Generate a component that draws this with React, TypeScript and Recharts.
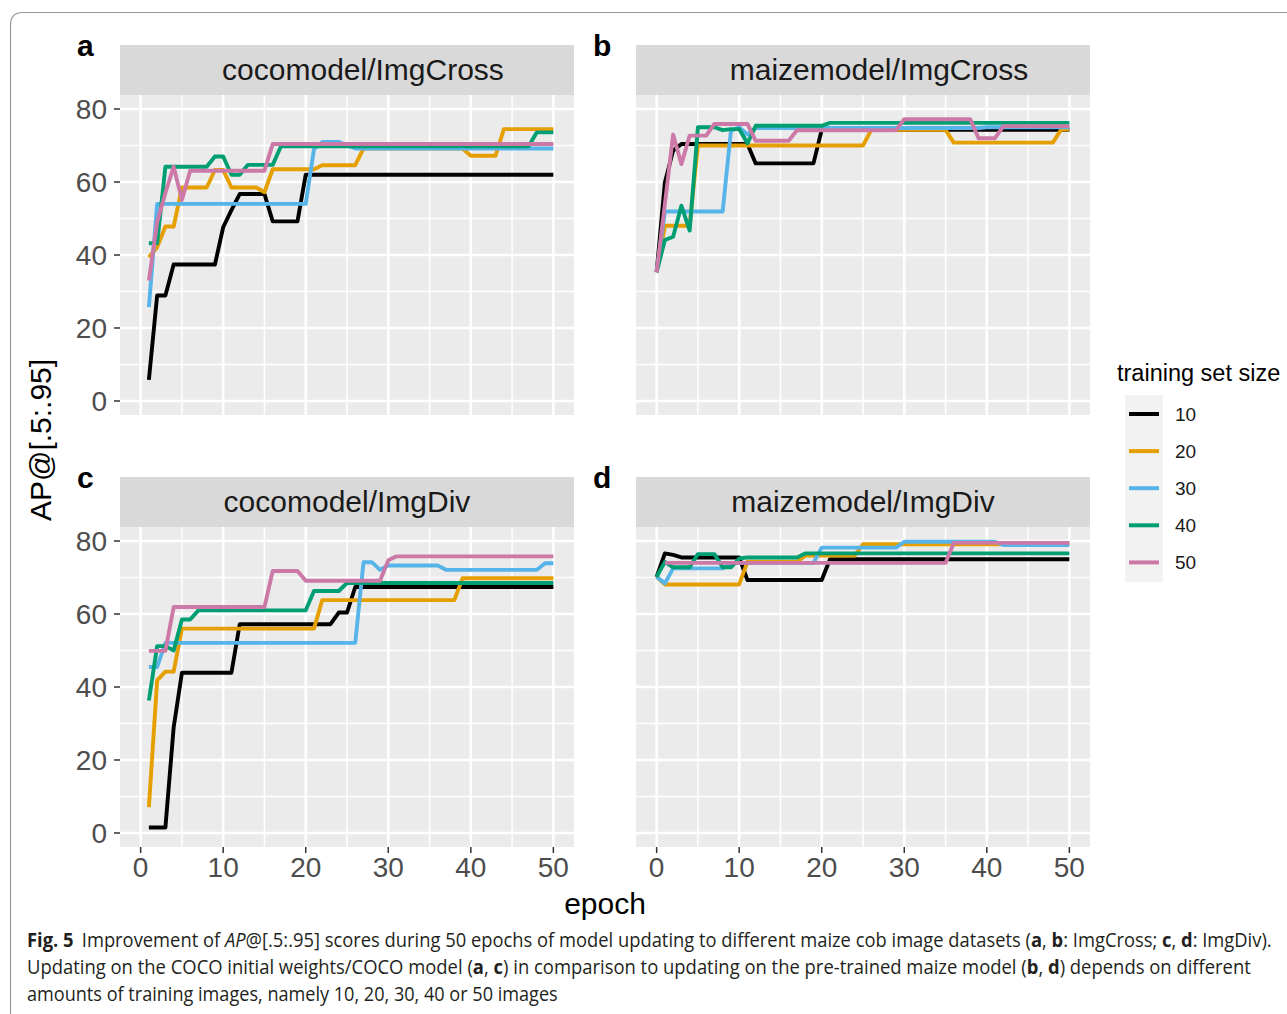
import React, { useLayoutEffect, useRef, useState } from "react";
import { LineChart, Line, XAxis, YAxis, CartesianGrid, ReferenceLine } from "recharts";

const epochs = [
  0, 1, 2, 3, 4, 5, 6, 7, 8, 9, 10, 11, 12, 13, 14, 15, 16, 17, 18, 19, 20, 21, 22, 23, 24, 25,
  26, 27, 28, 29, 30, 31, 32, 33, 34, 35, 36, 37, 38, 39, 40, 41, 42, 43, 44, 45, 46, 47, 48, 49, 50,
];

const sizes = ["10", "20", "30", "40", "50"];
const colors = ["#000000", "#E69F00", "#56B4E9", "#009E73", "#CC79A7"];

const xTicks = [0, 10, 20, 30, 40, 50];
const xMinor = [5, 15, 25, 35, 45];
const yTicks = [0, 20, 40, 60, 80];
const yMinor = [10, 30, 50, 70];

// a: cocomodel/ImgCross
const cocoCross10 = [
  null, 5.8, 28.9, 28.9, 37.4, 37.4, 37.4, 37.4, 37.4, 37.4,
  47.6, 52.3, 56.7, 56.7, 56.7, 56.7, 49.2, 49.2, 49.2, 49.2,
  62, 62, 62, 62, 62, 62, 62, 62, 62, 62,
  62, 62, 62, 62, 62, 62, 62, 62, 62, 62,
  62, 62, 62, 62, 62, 62, 62, 62, 62, 62,
  62,
];
const cocoCross20 = [
  null, 39.4, 42.1, 47.8, 47.8, 58.5, 58.5, 58.5, 58.5, 63.3,
  63.3, 58.5, 58.5, 58.5, 58.5, 57.2, 63.5, 63.5, 63.5, 63.5,
  63.5, 63.5, 64.6, 64.6, 64.6, 64.6, 64.6, 69.2, 69.2, 69.2,
  69.2, 69.2, 69.2, 69.2, 69.2, 69.2, 69.2, 69.2, 69.2, 69.2,
  67.2, 67.2, 67.2, 67.2, 74.5, 74.5, 74.5, 74.5, 74.5, 74.5,
  74.5,
];
const cocoCross30 = [
  null, 25.7, 54, 54, 54, 54, 54, 54, 54, 54,
  54, 54, 54, 54, 54, 54, 54, 54, 54, 54,
  54, 69, 71, 71, 71, 70, 69.2, 69.2, 69.2, 69.2,
  69.2, 69.2, 69.2, 69.2, 69.2, 69.2, 69.2, 69.2, 69.2, 69.2,
  69.2, 69.2, 69.2, 69.2, 69.2, 69.2, 69.2, 69.2, 69.2, 69.2,
  69.2,
];
const cocoCross40 = [
  null, 43.2, 43.2, 64.2, 64.2, 64.2, 64.2, 64.2, 64.2, 67,
  67, 62, 62, 64.7, 64.7, 64.7, 64.7, 69.8, 69.8, 69.8,
  69.8, 69.8, 69.8, 69.8, 69.8, 69.8, 69.8, 69.8, 69.8, 69.8,
  69.8, 69.8, 69.8, 69.8, 69.8, 69.8, 69.8, 69.8, 69.8, 69.8,
  69.8, 69.8, 69.8, 69.8, 69.8, 69.8, 69.8, 69.8, 73.6, 73.6,
  73.6,
];
const cocoCross50 = [
  null, 33, 49, 57, 64.2, 55.1, 63.1, 63.1, 63.1, 63.1,
  63.1, 63.1, 63.1, 63.1, 63.1, 63.1, 70.4, 70.4, 70.4, 70.4,
  70.4, 70.4, 70.4, 70.4, 70.4, 70.4, 70.4, 70.4, 70.4, 70.4,
  70.4, 70.4, 70.4, 70.4, 70.4, 70.4, 70.4, 70.4, 70.4, 70.4,
  70.4, 70.4, 70.4, 70.4, 70.4, 70.4, 70.4, 70.4, 70.4, 70.4,
  70.4,
];

// b: maizemodel/ImgCross
const maizeCross10 = [
  35.3, 59.9, 68.6, 70.4, 70.4, 70.4, 70.4, 70.4, 70.4, 70.4,
  70.4, 70.4, 65.1, 65.1, 65.1, 65.1, 65.1, 65.1, 65.1, 65.1,
  74.3, 74.3, 74.3, 74.3, 74.3, 74.3, 74.3, 74.3, 74.3, 74.3,
  74.3, 74.3, 74.3, 74.3, 74.3, 74.3, 74.3, 74.3, 74.3, 74.3,
  74.3, 74.3, 74.3, 74.3, 74.3, 74.3, 74.3, 74.3, 74.3, 74.3,
  74.3,
];
const maizeCross20 = [
  35.3, 48, 48, 48, 48, 70, 70, 70, 70, 70,
  70, 70, 70, 70, 70, 70, 70, 70, 70, 70,
  70, 70, 70, 70, 70, 70, 74.3, 74.3, 74.3, 74.3,
  74.3, 74.3, 74.3, 74.3, 74.3, 74.3, 70.8, 70.8, 70.8, 70.8,
  70.8, 70.8, 70.8, 70.8, 70.8, 70.8, 70.8, 70.8, 70.8, 74.4,
  74.4,
];
const maizeCross30 = [
  35.3, 51.9, 51.9, 51.9, 51.9, 51.9, 51.9, 51.9, 51.9, 74,
  75, 73, 74.8, 74.8, 74.8, 74.8, 74.8, 74.8, 74.8, 74.8,
  74.8, 74.8, 74.8, 74.8, 74.8, 74.8, 74.8, 74.8, 74.8, 74.8,
  74.8, 74.8, 74.8, 74.8, 74.8, 74.8, 74.8, 74.8, 74.8, 74.8,
  75, 75, 75, 75, 75, 75, 75, 75, 75, 75,
  75,
];
const maizeCross40 = [
  35.3, 44.1, 45, 53.5, 46.7, 75, 75, 75, 74.2, 74.5,
  74.5, 70.6, 75.4, 75.4, 75.4, 75.4, 75.4, 75.4, 75.4, 75.4,
  75.4, 76.2, 76.2, 76.2, 76.2, 76.2, 76.2, 76.2, 76.2, 76.2,
  76.2, 76.2, 76.2, 76.2, 76.2, 76.2, 76.2, 76.2, 76.2, 76.2,
  76.2, 76.2, 76.2, 76.2, 76.2, 76.2, 76.2, 76.2, 76.2, 76.2,
  76.2,
];
const maizeCross50 = [
  35.3, 54, 73, 64.9, 72.7, 72.7, 72.7, 75.9, 75.9, 75.9,
  75.9, 75.9, 71.3, 71.3, 71.3, 71.3, 71.3, 74.2, 74.2, 74.2,
  74.2, 74.2, 74.2, 74.2, 74.2, 74.2, 74.2, 74.2, 74.2, 74.2,
  77.2, 77.2, 77.2, 77.2, 77.2, 77.2, 77.2, 77.2, 77.2, 72,
  72, 72, 75.3, 75.3, 75.3, 75.3, 75.3, 75.3, 75.3, 75.3,
  75.3,
];

// c: cocomodel/ImgDiv
const cocoDiv10 = [
  null, 1.5, 1.5, 1.5, 28.9, 43.9, 43.9, 43.9, 43.9, 43.9,
  43.9, 43.9, 57.2, 57.2, 57.2, 57.2, 57.2, 57.2, 57.2, 57.2,
  57.2, 57.2, 57.2, 57.2, 60.4, 60.4, 67.4, 67.4, 67.4, 67.4,
  67.4, 67.4, 67.4, 67.4, 67.4, 67.4, 67.4, 67.4, 67.4, 67.4,
  67.4, 67.4, 67.4, 67.4, 67.4, 67.4, 67.4, 67.4, 67.4, 67.4,
  67.4,
];
const cocoDiv20 = [
  null, 7.1, 41.8, 44.2, 44.2, 56, 56, 56, 56, 56,
  56, 56, 56, 56, 56, 56, 56, 56, 56, 56,
  56, 56, 63.8, 63.8, 63.8, 63.8, 63.8, 63.8, 63.8, 63.8,
  63.8, 63.8, 63.8, 63.8, 63.8, 63.8, 63.8, 63.8, 63.8, 69.8,
  69.8, 69.8, 69.8, 69.8, 69.8, 69.8, 69.8, 69.8, 69.8, 69.8,
  69.8,
];
const cocoDiv30 = [
  null, 45.5, 45.5, 52.1, 52.1, 52.1, 52.1, 52.1, 52.1, 52.1,
  52.1, 52.1, 52.1, 52.1, 52.1, 52.1, 52.1, 52.1, 52.1, 52.1,
  52.1, 52.1, 52.1, 52.1, 52.1, 52.1, 52.1, 74.2, 74.2, 72.1,
  73.3, 73.3, 73.3, 73.3, 73.3, 73.3, 73.3, 72.1, 72.1, 72.1,
  72.1, 72.1, 72.1, 72.1, 72.1, 72.1, 72.1, 72.1, 72.1, 73.9,
  73.9,
];
const cocoDiv40 = [
  null, 36.3, 51.2, 51.2, 50, 58.5, 58.5, 61, 61, 61,
  61, 61, 61, 61, 61, 61, 61, 61, 61, 61,
  61, 66.3, 66.3, 66.3, 66.3, 68.5, 68.5, 68.5, 68.5, 68.5,
  68.5, 68.5, 68.5, 68.5, 68.5, 68.5, 68.5, 68.5, 68.5, 68.5,
  68.5, 68.5, 68.5, 68.5, 68.5, 68.5, 68.5, 68.5, 68.5, 68.5,
  68.5,
];
const cocoDiv50 = [
  null, 49.9, 49.9, 49.9, 61.9, 61.9, 61.9, 61.9, 61.9, 61.9,
  61.9, 61.9, 61.9, 61.9, 61.9, 61.9, 71.8, 71.8, 71.8, 71.8,
  69.1, 69.1, 69.1, 69.1, 69.1, 69.1, 69.1, 69.1, 69.1, 69.1,
  74.7, 75.8, 75.8, 75.8, 75.8, 75.8, 75.8, 75.8, 75.8, 75.8,
  75.8, 75.8, 75.8, 75.8, 75.8, 75.8, 75.8, 75.8, 75.8, 75.8,
  75.8,
];

// d: maizemodel/ImgDiv
const maizeDiv10 = [
  70.2, 76.6, 76.2, 75.5, 75.5, 75.5, 75.5, 75.5, 75.5, 75.5,
  75.5, 69.3, 69.3, 69.3, 69.3, 69.3, 69.3, 69.3, 69.3, 69.3,
  69.3, 75, 75, 75, 75, 75, 75, 75, 75, 75,
  75, 75, 75, 75, 75, 75, 75, 75, 75, 75,
  75, 75, 75, 75, 75, 75, 75, 75, 75, 75,
  75,
];
const maizeDiv20 = [
  70.2, 68.1, 68.1, 68.1, 68.1, 68.1, 68.1, 68.1, 68.1, 68.1,
  68.1, 74.3, 74.3, 74.3, 74.3, 74.3, 74.3, 74.3, 76, 76,
  76, 76, 76, 76, 76, 79.1, 79.1, 79.1, 79.1, 79.1,
  79.1, 79.1, 79.1, 79.1, 79.1, 79.1, 79.1, 79.1, 79.1, 79.1,
  79.1, 79.1, 79.1, 79.1, 79.1, 79.1, 79.1, 79.1, 79.1, 79.1,
  79.1,
];
const maizeDiv30 = [
  70.2, 68.4, 72.5, 72.5, 72.5, 72.5, 72.5, 72.5, 72.5, 74,
  74, 74, 74, 74, 74, 74, 74, 74, 74, 74,
  78.2, 78.2, 78.2, 78.2, 78.2, 78.2, 78.2, 78.2, 78.2, 78.2,
  79.8, 79.8, 79.8, 79.8, 79.8, 79.8, 79.8, 79.8, 79.8, 79.8,
  79.8, 79.8, 78.9, 78.9, 78.9, 78.9, 78.9, 78.9, 78.9, 78.9,
  78.9,
];
const maizeDiv40 = [
  70.2, 74.3, 72.8, 72.8, 72.8, 76.4, 76.4, 76.4, 72.8, 72.8,
  75.2, 75.5, 75.5, 75.5, 75.5, 75.5, 75.5, 75.5, 76.6, 76.6,
  76.6, 76.6, 76.6, 76.6, 76.6, 76.6, 76.6, 76.6, 76.6, 76.6,
  76.6, 76.6, 76.6, 76.6, 76.6, 76.6, 76.6, 76.6, 76.6, 76.6,
  76.6, 76.6, 76.6, 76.6, 76.6, 76.6, 76.6, 76.6, 76.6, 76.6,
  76.6,
];
const maizeDiv50 = [
  null, 74, 74, 74, 74, 74, 74, 74, 74, 74,
  74, 74, 74, 74, 74, 74, 74, 74, 74, 74,
  74, 74, 74, 74, 74, 74, 74, 74, 74, 74,
  74, 74, 74, 74, 74, 74, 79.5, 79.5, 79.5, 79.5,
  79.5, 79.5, 79.5, 79.5, 79.5, 79.5, 79.5, 79.5, 79.5, 79.5,
  79.5,
];

const FONT = "'Liberation Sans', Arial, Helvetica, sans-serif";
const CAPTION_FONT = "'Open Sans', 'Noto Sans', sans-serif";
const PW = 454;
const PH = 320;

type PanelProps = {
  title: string;
  tag: string;
  series: (number | null)[][];
  left: number;
  top: number;
  showX: boolean;
  showY: boolean;
};

function Panel({ title, tag, series, left, top, showX, showY }: PanelProps) {
  const data = epochs.map((epoch, i) => {
    const row: Record<string, number | null> = { epoch };
    sizes.forEach((s, k) => {
      row["s" + s] = series[k][i];
    });
    return row;
  });
  const yW = showY ? 70 : 0;
  const xH = showX ? 50 : 0;
  const padB = showX ? 0 : 14;
  // top row strip labels sit a little right of centre in the figure
  const titleShift = showX ? 0 : 32;
  const tickStyle = { fill: "#4D4D4D", fontSize: 28, fontFamily: FONT };
  return (
    <>
      <div
        style={{
          position: "absolute",
          left,
          top: top - 50,
          width: PW,
          height: 50,
          background: "#D9D9D9",
        }}
      >
        <div
          style={{
            position: "absolute",
            left: titleShift,
            right: 0,
            top: 0,
            color: "#1A1A1A",
            fontFamily: FONT,
            fontSize: 30,
            lineHeight: "50px",
            textAlign: "center",
            whiteSpace: "nowrap",
          }}
        >
          {title}
        </div>
      </div>
      <div
        style={{
          position: "absolute",
          left: left - 43,
          top: top - 66,
          fontFamily: FONT,
          fontWeight: "bold",
          fontSize: 30,
          lineHeight: "34px",
          color: "#000",
        }}
      >
        {tag}
      </div>
      <div style={{ position: "absolute", left: left - yW, top }}>
        <LineChart
          width={PW + yW}
          height={PH + xH + padB}
          data={data}
          margin={{ top: 0, right: 0, bottom: padB, left: 0 }}
        >
          <CartesianGrid fill="#EBEBEB" fillOpacity={1} horizontal={false} vertical={false} />
          {xMinor.map((v) => (
            <ReferenceLine key={"xm" + v} x={v} stroke="#FFFFFF" strokeWidth={1.5} zIndex={-50} />
          ))}
          {yMinor.map((v) => (
            <ReferenceLine key={"ym" + v} y={v} stroke="#FFFFFF" strokeWidth={1.5} zIndex={-50} />
          ))}
          {xTicks.map((v) => (
            <ReferenceLine key={"x" + v} x={v} stroke="#FFFFFF" strokeWidth={2.5} zIndex={-50} />
          ))}
          {yTicks.map((v) => (
            <ReferenceLine key={"y" + v} y={v} stroke="#FFFFFF" strokeWidth={2.5} zIndex={-50} />
          ))}
          <XAxis
            type="number"
            dataKey="epoch"
            domain={[-2.5, 52.5]}
            allowDataOverflow
            ticks={xTicks}
            hide={!showX}
            height={xH}
            axisLine={false}
            tickLine={{ stroke: "#333333", strokeWidth: 1.5 }}
            tickSize={6}
            tickMargin={4}
            tick={tickStyle}
            interval={0}
          />
          <YAxis
            type="number"
            domain={[-3.84, 83.84]}
            allowDataOverflow
            ticks={yTicks}
            hide={!showY}
            width={yW}
            axisLine={false}
            tickLine={{ stroke: "#333333", strokeWidth: 1.5 }}
            tickSize={6}
            tickMargin={7}
            tick={tickStyle}
            interval={0}
          />
          {sizes.map((s, k) => (
            <Line
              key={s}
              type="linear"
              dataKey={"s" + s}
              stroke={colors[k]}
              strokeWidth={3.9}
              strokeLinejoin="round"
              dot={false}
              activeDot={false}
              isAnimationActive={false}
            />
          ))}
        </LineChart>
      </div>
    </>
  );
}

// one caption line, squeezed horizontally to the width it has in the figure
function CaptionLine({ x, y, width, children }: { x: number; y: number; width: number; children: React.ReactNode }) {
  const ref = useRef<SVGTextElement>(null);
  const [sx, setSx] = useState(1);
  useLayoutEffect(() => {
    if (ref.current) {
      const w = ref.current.getBBox().width;
      if (w > 0) setSx(width / w);
    }
  }, [width]);
  return (
    <text ref={ref} x={0} y={0} transform={`translate(${x} ${y}) scale(${sx} 1)`}>
      {children}
    </text>
  );
}

export default function App() {
  return (
    <div
      style={{
        position: "absolute",
        left: 0,
        top: 0,
        width: 1287,
        height: 1014,
        background: "#fff",
        overflow: "hidden",
      }}
    >
      <Panel
        title="cocomodel/ImgCross"
        tag="a"
        series={[cocoCross10, cocoCross20, cocoCross30, cocoCross40, cocoCross50]}
        left={120}
        top={95}
        showX={false}
        showY={true}
      />
      <Panel
        title="maizemodel/ImgCross"
        tag="b"
        series={[maizeCross10, maizeCross20, maizeCross30, maizeCross40, maizeCross50]}
        left={636}
        top={95}
        showX={false}
        showY={false}
      />
      <Panel
        title="cocomodel/ImgDiv"
        tag="c"
        series={[cocoDiv10, cocoDiv20, cocoDiv30, cocoDiv40, cocoDiv50]}
        left={120}
        top={527}
        showX={true}
        showY={true}
      />
      <Panel
        title="maizemodel/ImgDiv"
        tag="d"
        series={[maizeDiv10, maizeDiv20, maizeDiv30, maizeDiv40, maizeDiv50]}
        left={636}
        top={527}
        showX={true}
        showY={false}
      />

      <svg
        width={1287}
        height={1014}
        style={{ position: "absolute", left: 0, top: 0, pointerEvents: "none" }}
      >
        <path d="M 10.5 1014 V 25 Q 10.5 12.5 23 12.5 H 1287" fill="none" stroke="#9A9A9A" strokeWidth={1.2} />

        <text
          x={51}
          y={440}
          transform="rotate(-90 51 440)"
          textAnchor="middle"
          fontFamily={FONT}
          fontSize={30}
          fill="#000"
        >
          AP@[.5:.95]
        </text>
        <text x={605} y={914} textAnchor="middle" fontFamily={FONT} fontSize={30} fill="#000">
          epoch
        </text>

        <text x={1117} y={381} fontFamily={FONT} fontSize={23.5} fill="#000">
          training set size
        </text>
        <rect x={1125} y={395} width={38} height={187} fill="#F2F2F2" />
        {sizes.map((s, k) => (
          <g key={s}>
            <line
              x1={1129}
              x2={1159}
              y1={414 + k * 37.1}
              y2={414 + k * 37.1}
              stroke={colors[k]}
              strokeWidth={4}
            />
            <text x={1175} y={414 + k * 37.1} dy="0.36em" fontFamily={FONT} fontSize={19} fill="#1A1A1A">
              {s}
            </text>
          </g>
        ))}

        <g fontFamily={CAPTION_FONT} fontSize={20} fill="#231F20">
          <CaptionLine x={27} y={947} width={1245}>
            <tspan fontWeight="bold">Fig. 5</tspan>
            <tspan dx={9}>Improvement of </tspan>
            <tspan fontStyle="italic">AP</tspan>
            {"@[.5:.95] scores during 50 epochs of model updating to different maize cob image datasets ("}
            <tspan fontWeight="bold">a</tspan>
            {", "}
            <tspan fontWeight="bold">b</tspan>
            {": ImgCross; "}
            <tspan fontWeight="bold">c</tspan>
            {", "}
            <tspan fontWeight="bold">d</tspan>
            {": ImgDiv)."}
          </CaptionLine>
          <CaptionLine x={27} y={974} width={1225}>
            {"Updating on the COCO initial weights/COCO model ("}
            <tspan fontWeight="bold">a</tspan>
            {", "}
            <tspan fontWeight="bold">c</tspan>
            {") in comparison to updating on the pre-trained maize model ("}
            <tspan fontWeight="bold">b</tspan>
            {", "}
            <tspan fontWeight="bold">d</tspan>
            {") depends on different"}
          </CaptionLine>
          <CaptionLine x={27} y={1001} width={531}>
            amounts of training images, namely 10, 20, 30, 40 or 50 images
          </CaptionLine>
        </g>
      </svg>
    </div>
  );
}
